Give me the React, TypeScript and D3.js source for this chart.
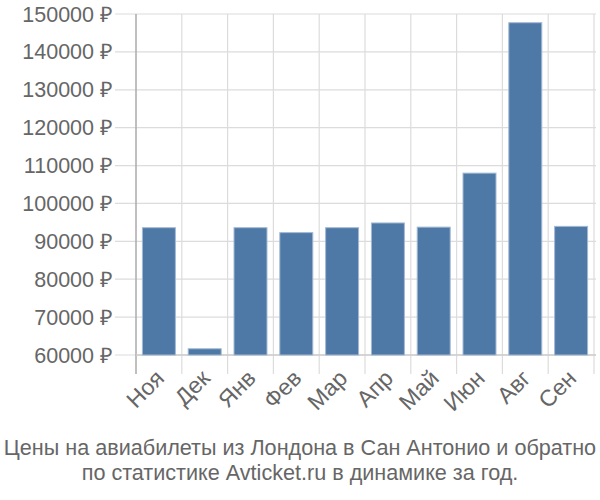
import React from "react";
import * as d3 from "d3";

const months = ["Ноя", "Дек", "Янв", "Фев", "Мар", "Апр", "Май", "Июн", "Авг", "Сен"];
const prices = [93600, 61650, 93600, 92300, 93600, 94850, 93750, 108000, 147700, 93950];
const yTicks = [60000, 70000, 80000, 90000, 100000, 110000, 120000, 130000, 140000, 150000];
const titleLines = [
  "Цены на авиабилеты из Лондона в Сан Антонио и обратно",
  "по статистике Avticket.ru в динамике за год.",
];

const W = 600;
const H = 500;
const left = 136;
const right = 594;
const top = 14;
const bottom = 355;
const font = "'Liberation Sans', Arial, sans-serif";

export default function App() {
  const x = d3.scaleBand<string>().domain(months).range([left, right]).paddingInner(0.28).paddingOuter(0.14);
  const xb = d3.scaleBand<string>().domain(months).range([left, right]);
  const y = d3.scaleLinear().domain([60000, 150000]).range([bottom, top]);

  return (
    <svg width={W} height={H} style={{ position: "absolute", left: 0, top: 0, background: "#fff" }}>
      {yTicks.map((t) => (
        <g key={t}>
          <line x1={115} x2={596} y1={y(t)} y2={y(t)} stroke="#dcdcdc" strokeWidth={1.2} />
          <text x={113} y={y(t)} dy="0.35em" textAnchor="end" fontFamily={font} fontSize={21.5} fill="#666">
            {t} ₽
          </text>
        </g>
      ))}
      {months.map((m) => (
        <line key={"v" + m} x1={(xb(m) as number) + xb.bandwidth()} x2={(xb(m) as number) + xb.bandwidth()} y1={top} y2={374} stroke="#dcdcdc" strokeWidth={1.2} />
      ))}
      <line x1={left} x2={left} y1={top} y2={374} stroke="#aaa" strokeWidth={1.5} />
      <line x1={left} x2={596} y1={bottom} y2={bottom} stroke="#ccc" strokeWidth={1.5} />
      {months.map((m, i) => (
        <rect
          key={m}
          x={x(m)}
          y={y(prices[i])}
          width={x.bandwidth()}
          height={bottom - y(prices[i])}
          fill="#4e79a7"
          stroke="#a3b9d2"
          strokeWidth={1}
        />
      ))}
      {months.map((m) => {
        const cx = (xb(m) as number) + xb.bandwidth() / 2 + 1;
        const cy = 374;
        return (
          <text
            key={"l" + m}
            transform={`translate(${cx},${cy}) rotate(-45)`}
            textAnchor="end"
            dy="0.35em"
            fontFamily={font}
            fontSize={23}
            fill="#666"
          >
            {m}
          </text>
        );
      })}
      {titleLines.map((t, i) => (
        <text key={t} x={300} y={455 + i * 25} textAnchor="middle" fontFamily={font} fontSize={21.6} fill="#666">
          {t}
        </text>
      ))}
    </svg>
  );
}
